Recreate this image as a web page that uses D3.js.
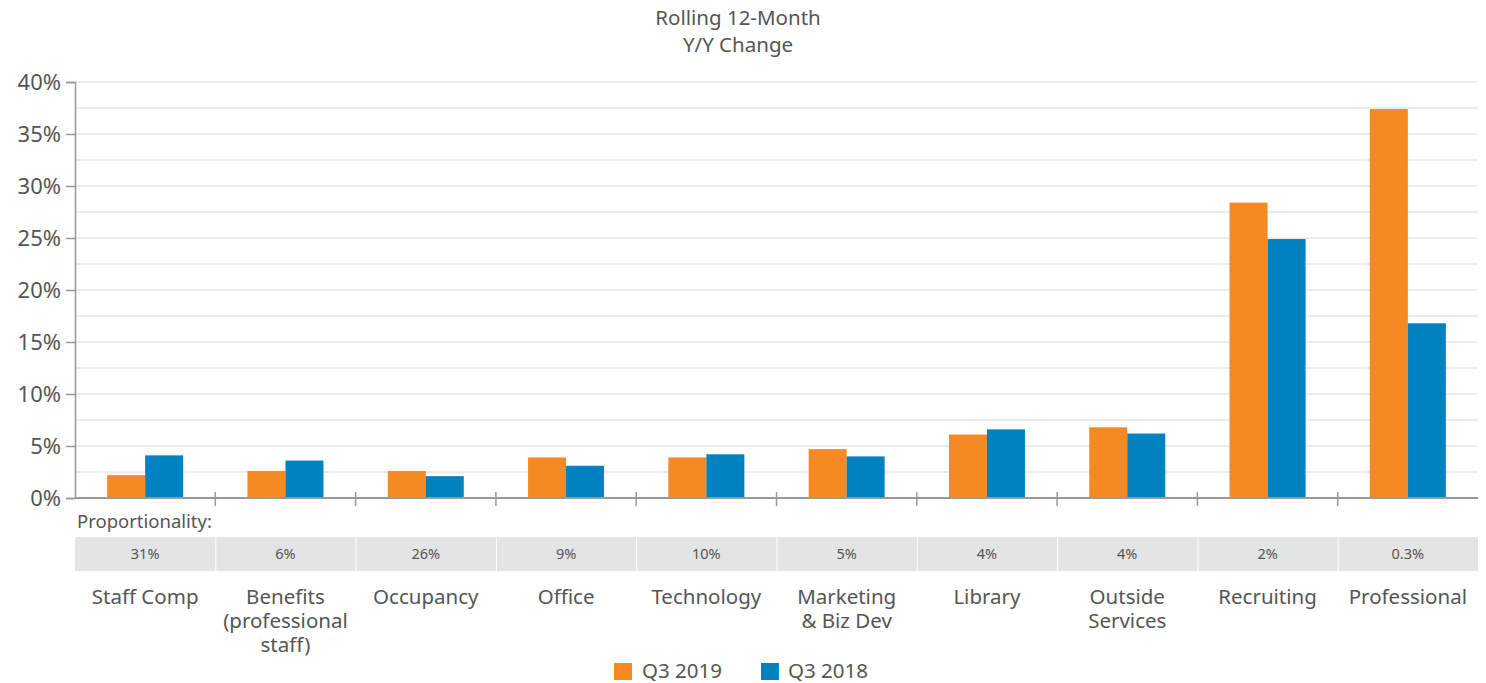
<!DOCTYPE html>
<html><head><meta charset="utf-8">
<script src="https://cdn.jsdelivr.net/npm/d3@7"></script>
<style>body{margin:0;background:#fff;} text{font-family:"Noto Sans","Open Sans",sans-serif;fill:#555;}</style>
</head><body>
<svg id="c" width="1486" height="683"></svg>
<script>
const categories = [["Staff Comp"],["Benefits","(professional","staff)"],["Occupancy"],["Office"],["Technology"],["Marketing","& Biz Dev"],["Library"],["Outside","Services"],["Recruiting"],["Professional"]];
const q32019 = [2.2, 2.6, 2.6, 3.9, 3.9, 4.7, 6.1, 6.8, 28.4, 37.4];
const q32018 = [4.1, 3.6, 2.1, 3.1, 4.2, 4.0, 6.6, 6.2, 24.9, 16.8];
const proportionality = ["31%","6%","26%","9%","10%","5%","4%","4%","2%","0.3%"];
const yTicks = [0,5,10,15,20,25,30,35,40];
const gridTicks = [0,2.5,5,7.5,10,12.5,15,17.5,20,22.5,25,27.5,30,32.5,35,37.5,40];
const seriesNames = ["Q3 2019","Q3 2018"];
const colors = ["#F58A22","#0081C0"];

const svg = d3.select("#c");
const L=75, R=1478, T=82, B=498;
const keys = categories.map((c,i)=>i);
const x = d3.scaleBand().domain(keys).range([L,R]).paddingInner(0).paddingOuter(0);
const xs = d3.scaleBand().domain([0,1]).range([0,x.bandwidth()]).paddingInner(0).paddingOuter(0.846);
const y = d3.scaleLinear().domain([0,40]).range([B,T]);

// title
svg.append("text").attr("x",738).attr("y",25).attr("text-anchor","middle").style("font-size","20.5px").text("Rolling 12-Month");
svg.append("text").attr("x",738).attr("y",52).attr("text-anchor","middle").style("font-size","20.5px").text("Y/Y Change");

// gridlines
svg.append("g").selectAll("line").data(gridTicks.filter(d=>d>0)).join("line")
  .attr("x1",L+1).attr("x2",R).attr("y1",d=>y(d)).attr("y2",d=>y(d))
  .attr("stroke","#e6e6e6").attr("stroke-width",1.5);

// bars
const series=[q32019,q32018];
series.forEach((s,si)=>{
  svg.append("g").selectAll("rect").data(s).join("rect")
    .attr("x",(d,i)=>x(i)+xs(si)).attr("width",xs.bandwidth())
    .attr("y",d=>y(d)).attr("height",d=>y(0)-y(d)).attr("fill",colors[si]);
});

// y axis
const ya = svg.append("g").attr("transform",`translate(${L},0)`)
  .call(d3.axisLeft(y).tickValues(yTicks).tickFormat(d=>d+"%").tickSize(9).tickPadding(5));
ya.select(".domain").attr("stroke","#999").attr("stroke-width",1.5);
ya.selectAll(".tick line").attr("stroke","#999").attr("stroke-width",1.5);
ya.selectAll(".tick text").style("font-size","22px").style("fill","#555").style("font-family","'Noto Sans',sans-serif");

// x axis line + boundary ticks
svg.append("line").attr("x1",L).attr("x2",R).attr("y1",B).attr("y2",B).attr("stroke","#999").attr("stroke-width",2);
svg.append("g").selectAll("line").data(keys.slice(1)).join("line")
  .attr("x1",d=>x(d)).attr("x2",d=>x(d)).attr("y1",B-6).attr("y2",B+8)
  .attr("stroke","#999").attr("stroke-width",1.5);

// proportionality
svg.append("text").attr("x",L+2).attr("y",528).style("font-size","18.5px").text("Proportionality:");
const cells = svg.append("g").selectAll("g").data(proportionality).join("g");
cells.append("rect").attr("x",(d,i)=>x(i)+(i>0?1:0)).attr("width",(d,i)=>x.bandwidth()-(i>0?1:0)).attr("y",537).attr("height",34).attr("fill","#e3e4e4");
cells.append("text").attr("x",(d,i)=>x(i)+x.bandwidth()/2).attr("y",559).attr("text-anchor","middle").style("font-size","14.5px").text(d=>d);

// category labels
const cl = svg.append("g").selectAll("text").data(categories).join("text")
  .attr("x",(d,i)=>x(i)+x.bandwidth()/2).attr("y",604).attr("text-anchor","middle").style("font-size","20.5px");
cl.selectAll("tspan").data(d=>d).join("tspan").attr("x",function(){return this.parentNode.getAttribute("x");})
  .attr("dy",(d,j)=>j===0?0:24).text(d=>d);

// legend
const lg=[{x:614,t:642},{x:761,t:788}];
seriesNames.forEach((n,i)=>{
  svg.append("rect").attr("x",lg[i].x).attr("y",663).attr("width",18).attr("height",17).attr("fill",colors[i]);
  svg.append("text").attr("x",lg[i].t).attr("y",678).style("font-size","20.5px").text(n);
});
</script>
</body></html>
